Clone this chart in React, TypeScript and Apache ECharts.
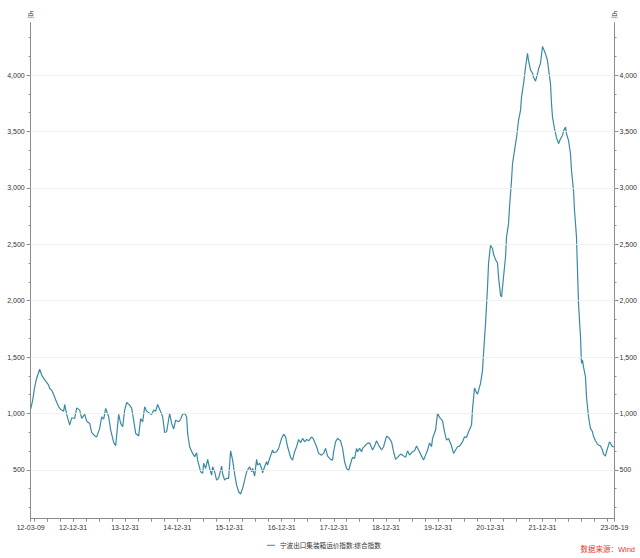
import React, { useEffect, useRef } from "react";
import * as echarts from "echarts";

// ---- Data ----
const startDate = "2012-03-09";
const endDate = "2023-05-19";
// weeks elapsed since startDate for each observation
const weekOffsets = [0,2,4,6,9,11,13,15,18,19,21,23,25,28,30,33,34,36,39,41,44,46,49,51,54,56,59,61,64,66,69,71,73,75,78,80,83,85,88,90,92,94,96,99,101,103,105,108,110,112,114,116,119,121,123,125,127,130,132,134,136,139,141,143,145,148,150,152,154,156,157,159,162,164,166,167,170,172,173,175,177,179,181,182,184,186,188,191,192,194,196,198,200,202,204,206,208,210,212,214,216,217,219,221,222,224,226,227,229,231,232,234,236,237,239,242,243,246,248,251,253,255,257,260,262,264,266,268,270,272,274,276,278,281,283,286,288,291,293,295,297,300,302,303,305,307,310,312,314,316,318,321,322,324,326,327,329,331,332,335,337,339,342,344,346,348,351,353,356,358,361,363,365,367,370,372,375,377,379,382,384,386,388,391,393,395,397,399,401,402,405,407,409,412,414,416,418,421,423,425,427,429,432,434,436,438,441,442,444,446,447,450,452,453,455,457,458,460,462,463,465,467,468,470,471,473,475,476,478,479,481,482,483,485,486,488,490,491,493,495,497,498,500,502,503,505,507,508,510,512,513,515,517,518,520,521,522,524,526,527,528,530,532,533,535,536,538,540,541,543,544,546,547,548,550,551,552,553,555,556,558,560,562,563,565,567,568,570,572,573,575,576,578,579,581,582,584];
const indexValues = [1040,1118,1235,1312,1392,1339,1310,1286,1250,1221,1206,1168,1118,1058,1035,1020,1079,991,896,961,955,1049,1029,955,991,931,911,831,801,792,867,970,949,1044,970,852,743,713,991,911,881,1029,1097,1073,1044,940,822,801,955,925,1058,1020,1000,991,1029,1020,1079,1014,970,831,837,1000,911,861,940,925,950,993,1000,970,822,704,645,615,651,586,482,468,557,512,592,512,453,527,482,409,424,533,462,409,424,424,668,586,462,364,305,285,335,409,482,497,527,482,512,444,592,542,557,512,473,527,571,542,601,675,651,660,690,778,816,792,704,610,586,660,704,769,739,778,748,769,757,792,769,704,645,630,645,690,621,592,586,660,748,778,757,690,571,512,491,586,610,601,690,660,690,660,690,719,734,739,675,710,757,719,675,704,798,787,748,660,592,610,639,630,610,668,630,660,668,710,675,621,586,630,675,739,704,778,852,1000,964,934,837,763,778,710,645,675,704,710,748,792,787,837,896,1040,1225,1182,1171,1266,1383,1531,1797,2121,2329,2491,2462,2411,2364,2334,2210,2048,2033,2210,2387,2564,2683,2830,3067,3215,3273,3392,3445,3598,3687,3805,3923,4070,4194,4130,4047,4017,3982,3946,4012,4056,4106,4254,4233,4189,4130,4056,3923,3746,3628,3525,3445,3421,3392,3436,3465,3504,3539,3480,3421,3303,3155,2978,2801,2564,2269,1974,1678,1443,1472,1413,1324,1147,970,867,837,798,757,728,719,710,675,639,621,660,719,748,719,704,704];
const seriesName = "宁波出口集装箱运价指数:综合指数";
const xLabelDates = ["2012-03-09","2012-12-31","2013-12-31","2014-12-31","2015-12-31","2016-12-31","2017-12-31","2018-12-31","2019-12-31","2020-12-31","2021-12-31","2023-05-19"];
const yLabelValues = [500,1000,1500,2000,2500,3000,3500,4000];
const yMin = 66;
const yMax = 4465;
const unitLabel = "点";
const sourceText = "数据来源：Wind";

const DAY = 86400000;
const toUTC = (s: string) => {
  const [y, m, d] = s.split("-").map(Number);
  return Date.UTC(y, m - 1, d);
};
const pad = (n: number) => (n < 10 ? "0" + n : String(n));
const fmtDate = (v: number) => {
  const d = new Date(v);
  return `${String(d.getUTCFullYear()).slice(2)}-${pad(d.getUTCMonth() + 1)}-${pad(d.getUTCDate())}`;
};
const fmtNum = (v: number) => Math.round(v).toString().replace(/\B(?=(\d{3})+(?!\d))/g, ",");

export default function App() {
  const ref = useRef<HTMLDivElement>(null);
  useEffect(() => {
    document.body.style.margin = "0";
    if (!ref.current) return;
    const chart = echarts.init(ref.current, undefined, { renderer: "svg" });
    const start = toUTC(startDate);
    const end = toUTC(endDate);
    const data = weekOffsets.map((w, i) => [start + w * 7 * DAY, indexValues[i]]);

    // quarterly tick positions on the date axis
    const xTicks: number[] = [start];
    for (let y = 2012; y <= 2023; y++) {
      [[2, 31], [5, 30], [8, 30], [11, 31]].forEach(([m, d]) => {
        const t = Date.UTC(y, m, d);
        if (t > start && t < end) xTicks.push(t);
      });
    }
    xTicks.push(end);
    const xLabels = xLabelDates.map(toUTC);
    const minorY: number[] = [];
    for (let k = 1; k * (500 / 3) < yMax; k++) {
      const v = Math.round((k * 500) / 3 * 100) / 100;
      if (v > yMin && k % 3 !== 0) minorY.push(v);
    }

    const font = "'Liberation Sans', 'Noto Sans CJK SC', sans-serif";
    const axisColor = "#8c8c8c";
    const labelColor = "#333";

    const mainY = (pos: "left" | "right") => ({
      type: "value",
      position: pos,
      min: yMin,
      max: yMax,
      name: unitLabel,
      nameLocation: "end",
      nameGap: 5,
      nameTextStyle: { fontSize: 7, color: labelColor, fontFamily: font, align: "center" },
      axisLine: { show: true, lineStyle: { color: axisColor, width: 1 } },
      axisTick: { show: true, length: 4, customValues: yLabelValues, lineStyle: { color: axisColor } },
      axisLabel: {
        show: true,
        customValues: yLabelValues,
        formatter: (v: number) => fmtNum(v),
        fontSize: 7,
        color: labelColor,
        fontFamily: font,
        margin: pos === "left" ? 6 : 5,
      },
      splitLine: { show: false },
    });
    const minorAxis = (pos: "left" | "right") => ({
      type: "value",
      position: pos,
      min: yMin,
      max: yMax,
      axisLine: { show: false },
      axisTick: { show: true, length: 2, customValues: minorY, lineStyle: { color: axisColor } },
      axisLabel: { show: false },
      splitLine: { show: false },
    });

    chart.setOption({
      animation: false,
      textStyle: { fontFamily: font },
      grid: { left: 30.7, right: 24.3, top: 22.7, bottom: 39.3, containLabel: false },
      legend: {
        show: true,
        left: 262,
        top: 537,
        itemWidth: 8,
        itemHeight: 8,
        itemGap: 10,
        textStyle: { fontSize: 6.6, color: labelColor, fontFamily: font },
        data: [{ name: seriesName, icon: "path://M0,4 L8,4 L8,5 L0,5 Z" }],
      },
      xAxis: {
        type: "value",
        min: start,
        max: end,
        axisLine: { show: true, lineStyle: { color: axisColor, width: 1 } },
        axisTick: { show: true, length: 3, customValues: xTicks, lineStyle: { color: axisColor } },
        axisLabel: {
          show: true,
          customValues: xLabels,
          formatter: (v: number) => fmtDate(v),
          fontSize: 7,
          color: labelColor,
          fontFamily: font,
          margin: 5,
        },
        splitLine: { show: false },
      },
      yAxis: [mainY("left"), mainY("right"), minorAxis("left"), minorAxis("right")],
      series: [
        {
          name: seriesName,
          type: "line",
          data,
          symbol: "none",
          showSymbol: false,
          yAxisIndex: 0,
          lineStyle: { color: "#3a8aa3", width: 1.2 },
          itemStyle: { color: "#3a8aa3" },
          markLine: {
            silent: true,
            symbol: "none",
            label: { show: false },
            lineStyle: { color: "#ededed", width: 0.8, type: "solid" },
            data: yLabelValues.map((v) => ({ yAxis: v })),
          },
        },
      ],
      graphic: [
        {
          type: "text",
          right: 5,
          top: 546,
          style: { text: sourceText, fontSize: 7.5, fill: "#e53935", fontFamily: font },
        },
      ],
    });
    return () => chart.dispose();
  }, []);
  return <div ref={ref} style={{ width: 640, height: 558 }} />;
}
